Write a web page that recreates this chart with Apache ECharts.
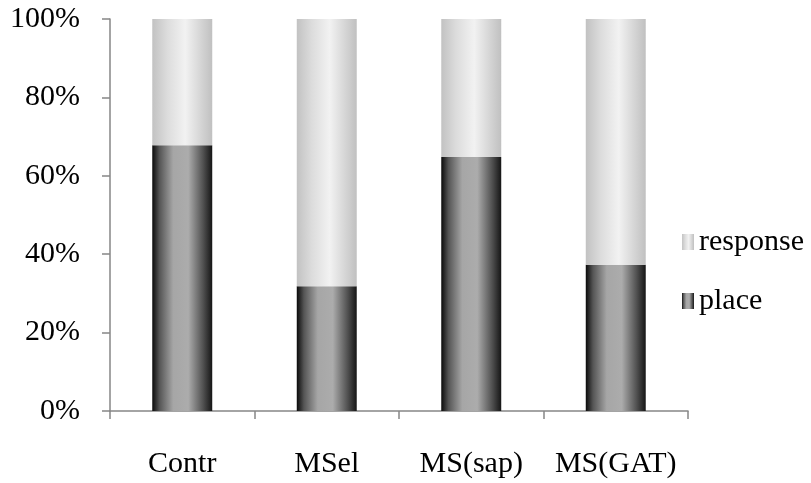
<!DOCTYPE html>
<html>
<head>
<meta charset="utf-8">
<script src="https://cdn.jsdelivr.net/npm/echarts@6/dist/echarts.min.js"></script>
<style>html,body{margin:0;padding:0;background:#fff}#c{width:811px;height:483px}</style>
</head>
<body>
<div id="c"></div>
<script>
var categories = ['Contr', 'MSel', 'MS(sap)', 'MS(GAT)'];
var placeValues = [67.8, 31.8, 64.8, 37.3];
var responseValues = [32.2, 68.2, 35.2, 62.7];
var yTicks = [0, 20, 40, 60, 80, 100];

var FONT = 'Liberation Serif';
var placeGrad = new echarts.graphic.LinearGradient(0, 0, 1, 0, [
  {offset: 0, color: '#0a0a0a'},
  {offset: 0.12, color: '#555555'},
  {offset: 0.35, color: '#a6a6a6'},
  {offset: 0.6, color: '#acacac'},
  {offset: 0.85, color: '#505050'},
  {offset: 1, color: '#151515'}
]);
var respGrad = new echarts.graphic.LinearGradient(0, 0, 1, 0, [
  {offset: 0, color: '#c2c2c2'},
  {offset: 0.25, color: '#dcdcdc'},
  {offset: 0.55, color: '#f2f2f2'},
  {offset: 0.8, color: '#d6d6d6'},
  {offset: 1, color: '#c0c0c0'}
]);

var chart = echarts.init(document.getElementById('c'), null, {renderer: 'canvas'});
chart.setOption({
  animation: false,
  backgroundColor: '#ffffff',
  grid: {left: 110, right: 123, top: 19, bottom: 72},
  legend: {
    orient: 'vertical',
    right: 2,
    top: 222,
    itemWidth: 12,
    itemHeight: 16,
    itemGap: 29,
    icon: 'rect',
    data: ['response', 'place'],
    textStyle: {fontFamily: FONT, fontSize: 30, color: '#000'}
  },
  xAxis: {
    type: 'category',
    data: categories,
    axisLine: {show: true, lineStyle: {color: '#868686', width: 1.5}},
    axisTick: {show: true, length: 8, lineStyle: {color: '#868686', width: 1.5}},
    axisLabel: {fontFamily: FONT, fontSize: 30, color: '#000', margin: 38, interval: 0}
  },
  yAxis: {
    type: 'value',
    min: 0, max: 100, interval: 20,
    axisLine: {show: true, lineStyle: {color: '#868686', width: 1.5}},
    axisTick: {show: true, length: 8, lineStyle: {color: '#868686', width: 1.5}},
    splitLine: {show: false},
    axisLabel: {fontFamily: FONT, fontSize: 30, color: '#000', margin: 30,
      formatter: function (v) { return yTicks.indexOf(v) >= 0 ? v + '%' : ''; }}
  },
  series: [
    {name: 'place', type: 'bar', stack: 's', data: placeValues, barWidth: '41.5%',
      itemStyle: {color: placeGrad}},
    {name: 'response', type: 'bar', stack: 's', data: responseValues, barWidth: '41.5%',
      itemStyle: {color: respGrad}}
  ]
});
</script>
</body>
</html>
